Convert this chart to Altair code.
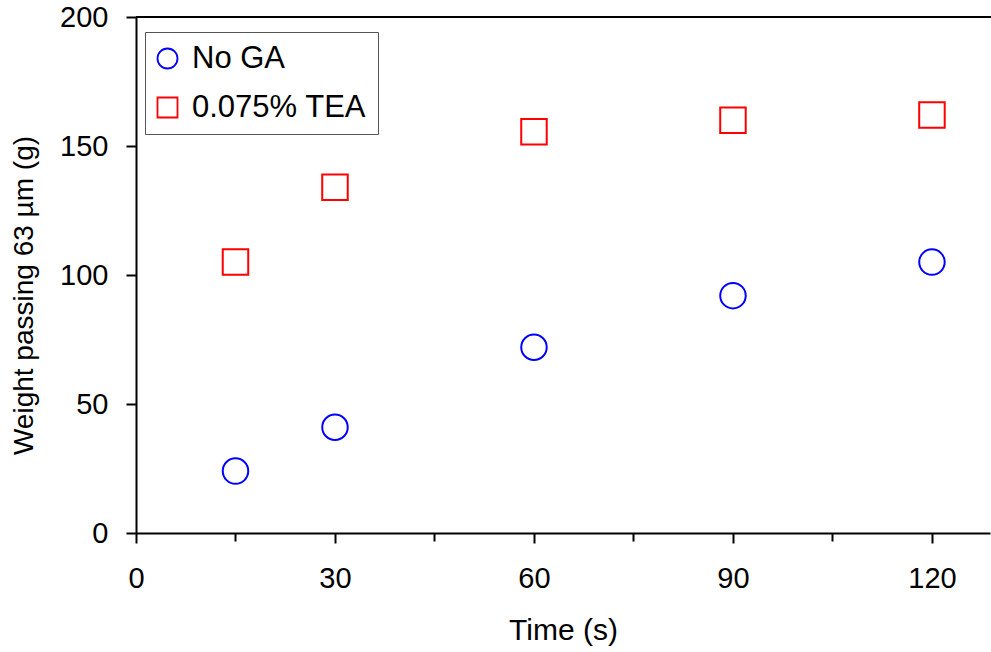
import altair as alt
import pandas as pd

time_s = [15, 30, 60, 90, 120]
no_ga = [24, 41, 72, 92, 105]
tea = [105, 134, 155.5, 160, 162]
series_names = ["No GA", "0.075% TEA"]
x_ticks = [0, 15, 30, 45, 60, 75, 90, 105, 120]
y_ticks = [0, 50, 100, 150, 200]

rows = []
for t, v in zip(time_s, no_ga):
    rows.append({"time": t, "weight": v, "series": series_names[0]})
for t, v in zip(time_s, tea):
    rows.append({"time": t, "weight": v, "series": series_names[1]})
df = pd.DataFrame(rows)

W = 854
H = 516
FONT = "Liberation Sans"

x_scale = alt.Scale(domain=[0, 128.75], nice=False, zero=False)
y_scale = alt.Scale(domain=[0, 200], nice=False)

points = alt.Chart(df).mark_point(filled=False, strokeWidth=2, size=650, opacity=1).encode(
    x=alt.X("time:Q", scale=x_scale, axis=alt.Axis(
        values=x_ticks, title="Time (s)", grid=False, labelFlush=False,
        labelExpr="datum.value % 30 === 0 ? datum.label : ''",
        tickSize={"condition": {"test": "datum.value % 30 === 0", "value": 10}, "value": 8},
        tickWidth=2, domainWidth=2, domainColor="black", tickColor="black",
        labelFontSize=29, labelFont=FONT, labelColor="black", labelPadding=21,
        titleFontSize=30, titleFont=FONT, titleFontWeight="normal", titleColor="black",
        titlePadding=22,
    )),
    y=alt.Y("weight:Q", scale=y_scale, axis=alt.Axis(
        values=y_ticks, title="Weight passing 63 µm (g)", grid=False,
        tickSize=10, tickWidth=2, domainWidth=2, domainColor="black", tickColor="black",
        labelFontSize=29, labelFont=FONT, labelColor="black", labelPadding=18,
        titleFontSize=28, titleFont=FONT, titleFontWeight="normal", titleColor="black",
        titlePadding=21, titleY=278,
    )),
    color=alt.Color("series:N", scale=alt.Scale(domain=series_names, range=["#0000ff", "#ff0000"]),
                    legend=alt.Legend(title=None)),
    shape=alt.Shape("series:N", scale=alt.Scale(domain=series_names, range=["circle", "square"]),
                    legend=alt.Legend(title=None)),
)

top_line = alt.Chart(df).mark_rule(color="black", strokeWidth=2).encode(
    x=alt.value(0), x2=alt.value(W + 5), y=alt.value(0)
)

chart = alt.layer(top_line, points).properties(
    width=W, height=H,
    autosize=alt.AutoSizeParams(type="none"),
    padding={"left": 136, "top": 17, "right": 1, "bottom": 119},
).configure_view(stroke=None).configure_legend(
    orient="none", legendX=9, legendY=15,
    padding=11, strokeColor="#555555", fillColor="white", strokeWidth=1,
    labelFontSize=31, labelFont=FONT, labelColor="black", labelLimit=0,
    symbolSize=400, symbolStrokeWidth=1.8, symbolOffset=-4, labelOffset=9, rowPadding=17,
    cornerRadius=0,
)

chart.save("out.html", embed_options={"renderer": "svg", "actions": False})
